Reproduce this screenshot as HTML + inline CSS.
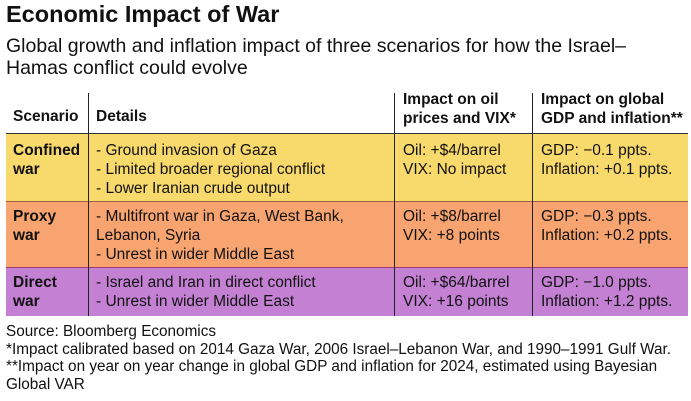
<!DOCTYPE html>
<html><head><meta charset="utf-8"><style>
body{margin:0;width:691px;height:401px;background:#fff;font-family:"Liberation Sans",Arial,sans-serif;color:#111;position:relative;overflow:hidden}
.a{position:absolute;white-space:nowrap}
.t{left:6px;top:1px;font-size:23.5px;font-weight:bold}
.s{left:6px;top:35px;font-size:19.5px;line-height:22px}
.cell{position:absolute;font-size:15.5px;line-height:19px;white-space:nowrap}
.b{font-weight:bold}
.row{position:absolute;left:6px;width:682px}
.vl{position:absolute;width:1px;background:#222}
.hl{position:absolute;left:6px;width:682px;height:1px;background:#333}
.f{left:6px;font-size:15.3px;line-height:17.5px}
</style></head><body>
<div class="a t">Economic Impact of War</div>
<div class="a s">Global growth and inflation impact of three scenarios for how the Israel–<br>Hamas conflict could evolve</div>

<div class="row" style="top:134px;height:68px;background:#f8d96c"></div>
<div class="row" style="top:202px;height:66px;background:#f7a470"></div>
<div class="row" style="top:268px;height:48px;background:#c481d4"></div>
<div class="hl" style="top:133px"></div>
<div class="hl" style="top:201px;background:#a0604a"></div>
<div class="hl" style="top:267px;background:#a03a6a"></div>
<div class="vl" style="left:88px;top:93px;height:223px"></div>
<div class="vl" style="left:394px;top:93px;height:223px"></div>
<div class="vl" style="left:532px;top:93px;height:223px"></div>

<div class="cell b" style="left:13px;top:107px">Scenario</div>
<div class="cell b" style="left:96px;top:107px">Details</div>
<div class="cell b" style="left:403px;top:90px">Impact on oil<br>prices and VIX*</div>
<div class="cell b" style="left:541px;top:90px">Impact on global<br>GDP and inflation**</div>

<div class="cell b" style="left:13px;top:141px">Confined<br>war</div>
<div class="cell" style="left:96px;top:141px">- Ground invasion of Gaza<br>- Limited broader regional conflict<br>- Lower Iranian crude output</div>
<div class="cell" style="left:403px;top:141px">Oil: +$4/barrel<br>VIX: No impact</div>
<div class="cell" style="left:541px;top:141px">GDP: −0.1 ppts.<br>Inflation: +0.1 ppts.</div>

<div class="cell b" style="left:13px;top:207px">Proxy<br>war</div>
<div class="cell" style="left:96px;top:207px">- Multifront war in Gaza, West Bank,<br>Lebanon, Syria<br>- Unrest in wider Middle East</div>
<div class="cell" style="left:403px;top:207px">Oil: +$8/barrel<br>VIX: +8 points</div>
<div class="cell" style="left:541px;top:207px">GDP: −0.3 ppts.<br>Inflation: +0.2 ppts.</div>

<div class="cell b" style="left:13px;top:273px">Direct<br>war</div>
<div class="cell" style="left:96px;top:273px">- Israel and Iran in direct conflict<br>- Unrest in wider Middle East</div>
<div class="cell" style="left:403px;top:273px">Oil: +$64/barrel<br>VIX: +16 points</div>
<div class="cell" style="left:541px;top:273px">GDP: −1.0 ppts.<br>Inflation: +1.2 ppts.</div>

<div class="a f" style="top:323px">Source: Bloomberg Economics<br>*Impact calibrated based on 2014 Gaza War, 2006 Israel–Lebanon War, and 1990–1991 Gulf War.<br>**Impact on year on year change in global GDP and inflation for 2024, estimated using Bayesian<br>Global VAR</div>
</body></html>
